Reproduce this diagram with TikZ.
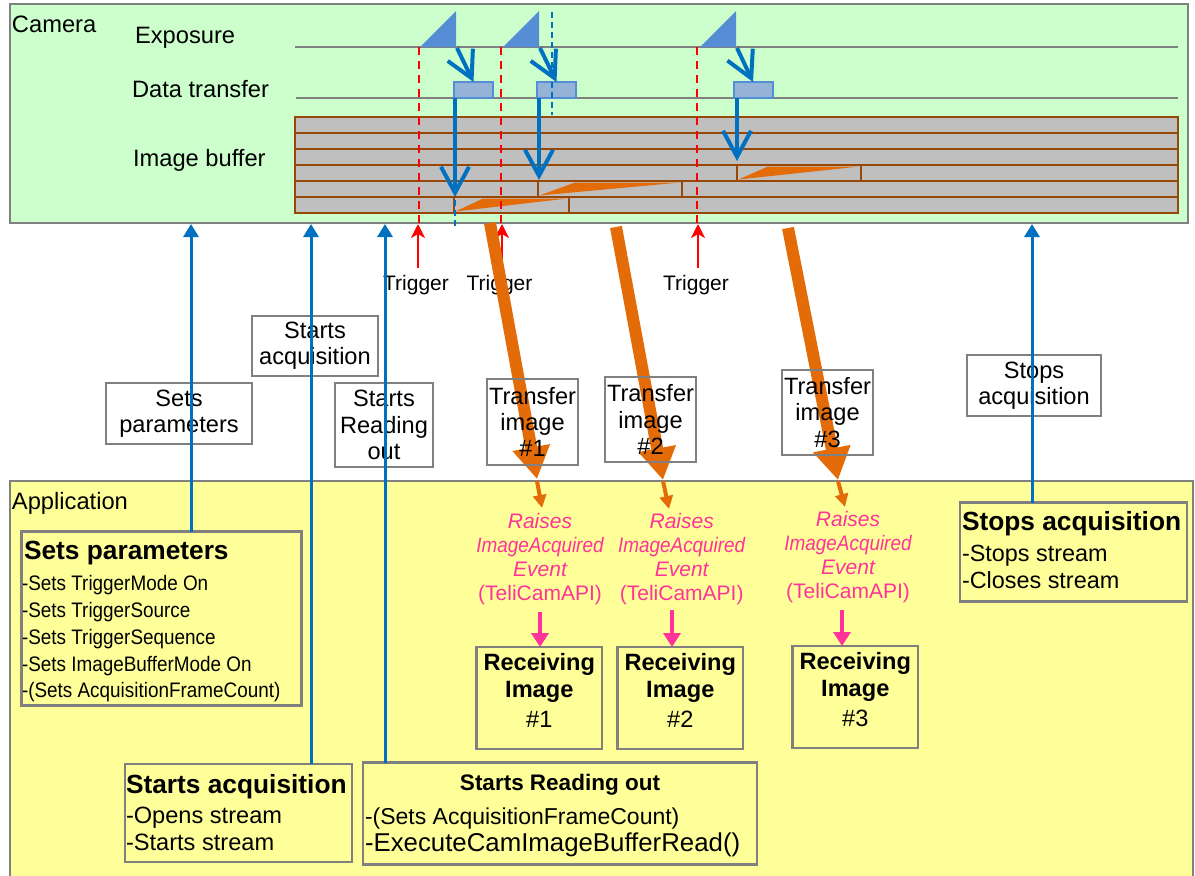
\documentclass[tikz,border=0pt]{standalone}
\usepackage{fontspec}
\setmainfont{Liberation Sans}
\newfontfamily\narrowfont[FakeStretch=0.9]{Liberation Sans}
\usetikzlibrary{arrows.meta}
\definecolor{camgreen}{RGB}{204,255,204}
\definecolor{appyellow}{RGB}{255,255,153}
\definecolor{panelgray}{RGB}{128,128,128}
\definecolor{bufgray}{RGB}{191,191,191}
\definecolor{bufbrown}{RGB}{152,72,6}
\definecolor{orangeA}{RGB}{227,108,9}
\definecolor{blueA}{RGB}{0,112,192}
\definecolor{expblue}{RGB}{85,142,213}
\definecolor{dtfill}{RGB}{149,179,215}
\definecolor{pinkA}{RGB}{255,51,153}
\definecolor{redA}{RGB}{255,0,0}
\begin{document}
\begin{tikzpicture}[x=1pt,y=-1pt,
  every node/.style={inner sep=0pt,outer sep=0pt},
  panelbox/.style={draw=panelgray,line width=2pt,anchor=north west},
  labtxt/.style={font=\fontsize{23.7}{26.7}\selectfont},
  trigtxt/.style={font=\fontsize{21}{24}\selectfont},
  lblbox/.style={draw=panelgray,line width=2pt,align=center,font=\fontsize{23.6}{26.3}\selectfont},
  appbox/.style={draw=panelgray,line width=2.5pt,anchor=north west},
  headtxt/.style={font=\bfseries\fontsize{26.3}{30}\selectfont},
  bodytxt/.style={font=\fontsize{23.6}{27}\selectfont},
  rectxt/.style={font=\fontsize{23.6}{27}\selectfont},
  tline/.style={draw=panelgray,line width=2pt},
  bufrow/.style={fill=bufgray,draw=bufbrown,line width=2.8pt},
  wedge/.style={fill=orangeA},
  dtbox/.style={draw=expblue,fill=dtfill,line width=2pt,minimum width=39pt,minimum height=16pt},
  barrow/.style={draw=blueA,line width=4pt,-{Straight Barb[length=26pt,width=28pt]}},
  uarrow/.style={draw=blueA,line width=3pt,-{Triangle[length=13pt,width=15pt]}},
  rarrow/.style={draw=redA,line width=2.5pt,-{Stealth[length=14pt,width=14pt,inset=4pt]}},
  parrow/.style={draw=pinkA,line width=4pt,-{Triangle[length=14pt,width=17pt]}},
  oarrow/.style={draw=orangeA,line width=12pt,-{Triangle[length=32pt,width=36pt]}},
  osmall/.style={draw=orangeA,line width=4pt,-{Triangle[length=13pt,width=13pt]}},
  rdash/.style={draw=redA,line width=2pt,dash pattern=on 8pt off 6pt},
  bdash/.style={draw=blueA,line width=2pt,dash pattern=on 6pt off 4pt},
  pinktxt/.style={text=pinkA,align=center,font=\fontsize{21}{24}\selectfont}
]
\useasboundingbox (0,0) rectangle (1195,876);
% panels
\node[panelbox,fill=camgreen,minimum width=1178pt,minimum height=219pt] (cam) at (10,4) {};
\node[panelbox,fill=appyellow,minimum width=1183pt,minimum height=400pt] (app) at (10,481) {};
% panel labels
\node[labtxt,anchor=base west] (tcam) at (12,32) {Camera};
\node[labtxt,anchor=base west] (texp) at (135,43) {Exposure};
\node[labtxt,anchor=base west] (tdt) at (132,97.5) {Data transfer};
\node[labtxt,anchor=base west] (tib) at (133,166) {Image buffer};
\node[labtxt,anchor=base west] (tapp) at (12,509) {Application};
% timelines
\draw[tline] (295,47) -- (1178,47);
\draw[tline] (296,98) -- (1178,98);
% image buffer
\foreach \yy in {117,133,149}{\draw[bufrow] (295,\yy) rectangle (1178,\yy+16);}
\draw[bufrow] (295,165) rectangle (737,181);
\draw[bufrow] (737,165) rectangle (861,181);
\draw[bufrow] (861,165) rectangle (1178,181);
\draw[bufrow] (295,181) rectangle (538,197);
\draw[bufrow] (538,181) rectangle (682,197);
\draw[bufrow] (682,181) rectangle (1178,197);
\draw[bufrow] (295,197) rectangle (454,213);
\draw[bufrow] (454,197) rectangle (569,213);
\draw[bufrow] (569,197) rectangle (1178,213);
\fill[wedge] (455.5,211.5) -- (483,198.5) -- (567.5,198.5) -- cycle;
\fill[wedge] (539.5,195.5) -- (575,182.5) -- (680.5,182.5) -- cycle;
\fill[wedge] (738.5,179.5) -- (768,166.5) -- (859.5,166.5) -- cycle;
% trigger dashed lines
\draw[rdash] (419,47) -- (419,223);
\draw[rdash] (501,47) -- (501,223);
\draw[rdash] (697,47) -- (697,223);
% exposure triangles
\fill[expblue] (420,47) -- (456,11) -- (456,47) -- cycle;
\fill[expblue] (503,47) -- (539,11) -- (539,47) -- cycle;
\fill[expblue] (700,47) -- (736,11) -- (736,47) -- cycle;
% data transfer boxes
\node[dtbox] (d1) at (473.5,90) {};
\node[dtbox] (d2) at (556.5,90) {};
\node[dtbox] (d3) at (753,90) {};
\coordinate (e1) at (457,48);
\coordinate (e2) at (540,48);
\coordinate (e3) at (737,48);
\draw[barrow] (e1) -- (d1.north);
\draw[barrow] (e2) -- (d2.north);
\draw[barrow] (e3) -- (d3.north);
\coordinate (v1) at (455,197);
\coordinate (v2) at (539,180);
\coordinate (v3) at (737,161);
\draw[barrow] (d1.south -| v1) -- (v1);
\draw[barrow] (d2.south -| v2) -- (v2);
\draw[barrow] (d3.south -| v3) -- (v3);
\draw[bdash] (552,12) -- (552,115);
\draw[bdash] (455,200) -- (455,228);
% triggers
\node[trigtxt,anchor=base] (tr1) at (416,290) {Trigger};
\node[trigtxt,anchor=base] (tr2) at (499.5,290) {Trigger};
\node[trigtxt,anchor=base] (tr3) at (696,290) {Trigger};
\coordinate (r1s) at (418,268); \coordinate (r1e) at (418,224);
\coordinate (r2s) at (502,268); \coordinate (r2e) at (502,224);
\coordinate (r3s) at (698,268); \coordinate (r3e) at (698,224);
\draw[rarrow] (r1s) -- (r1e);
\draw[rarrow] (r2s) -- (r2e);
\draw[rarrow] (r3s) -- (r3e);
% orange transfer arrows
\coordinate (o1s) at (490,223); \coordinate (o1e) at (537,479);
\coordinate (o2s) at (616,227); \coordinate (o2e) at (663,480);
\coordinate (o3s) at (788,228); \coordinate (o3e) at (838,480);
\draw[oarrow] (o1s) -- (o1e);
\draw[oarrow] (o2s) -- (o2e);
\draw[oarrow] (o3s) -- (o3e);
% label boxes
\node[lblbox,minimum width=146pt,minimum height=61pt] (lsp) at (179,413.5) {Sets\\parameters};
\node[lblbox,minimum width=126pt,minimum height=60pt] (lsa) at (315,346) {Starts\\acquisition};
\node[lblbox,minimum width=98pt,minimum height=84pt] (lsr) at (384,425) {Starts\\Reading\\out};
\node[lblbox,minimum width=91pt,minimum height=86pt] (lt1) at (532.5,422) {Transfer\\image\\\#1};
\node[lblbox,minimum width=91pt,minimum height=85pt] (lt2) at (650.5,419.5) {Transfer\\image\\\#2};
\node[lblbox,minimum width=91pt,minimum height=85pt] (lt3) at (827.5,412.5) {Transfer\\image\\\#3};
\node[lblbox,minimum width=134pt,minimum height=61pt] (lst) at (1034,385.5) {Stops\\acquisition};
% application boxes
\node[appbox,minimum width=280pt,minimum height=174pt] (appSP) at (21.7,531.7) {};
\node[appbox,minimum width=227pt,minimum height=98pt] (appSA) at (125,764) {};
\node[appbox,minimum width=394pt,minimum height=102pt] (appSR) at (363,762.7) {};
\node[appbox,minimum width=227pt,minimum height=99pt] (appST) at (960,502.7) {};
% blue command arrows
\coordinate (u1) at (191,224);
\coordinate (u2) at (311,224);
\coordinate (u3) at (385,224);
\coordinate (u4) at (1032,224);
\draw[uarrow] (appSP.north -| u1) -- (u1);
\draw[uarrow] (appSA.north -| u2) -- (u2);
\draw[uarrow] (appSR.north -| u3) -- (u3);
\draw[uarrow] (appST.north -| u4) -- (u4);
% application box texts
\node[headtxt,anchor=base west] (hsp) at (24,559) {Sets parameters};
\node[anchor=base west,align=left,font=\narrowfont\fontsize{21}{26.7}\selectfont] (bsp) at (22,697.7) {-Sets TriggerMode On\\-Sets TriggerSource\\-Sets TriggerSequence\\-Sets ImageBufferMode On\\-(Sets AcquisitionFrameCount)};
\node[headtxt,anchor=base west] (hsa) at (126,793) {Starts acquisition};
\node[bodytxt,anchor=base west,align=left] (bsa) at (126,850) {-Opens stream\\-Starts stream};
\node[font=\bfseries\fontsize{22.5}{26}\selectfont,anchor=base] (hsr) at (560,790) {Starts Reading out};
\node[font=\fontsize{23}{26}\selectfont,anchor=base west] (bsr1) at (365,824) {-(Sets AcquisitionFrameCount)};
\node[font=\fontsize{25.8}{28}\selectfont,anchor=base west] (bsr2) at (365,851.7) {-ExecuteCamImageBufferRead()};
\node[headtxt,anchor=base west] (hst) at (962,530.7) {Stops acquisition};
\node[font=\fontsize{23.4}{26.3}\selectfont,anchor=base west,align=left] (bst) at (962,588) {-Stops stream\\-Closes stream};
% events
\node[pinktxt,anchor=base] (ev1) at (540,600) {{\itshape Raises}\\{\narrowfont\itshape ImageAcquired}\\{\itshape Event}\\(TeliCamAPI)};
\node[pinktxt,anchor=base] (ev2) at (681.7,600) {{\itshape Raises}\\{\narrowfont\itshape ImageAcquired}\\{\itshape Event}\\(TeliCamAPI)};
\node[pinktxt,anchor=base] (ev3) at (848,598.3) {{\itshape Raises}\\{\narrowfont\itshape ImageAcquired}\\{\itshape Event}\\(TeliCamAPI)};
\coordinate (s1s) at (537,481); \coordinate (s1e) at (542,508);
\coordinate (s2s) at (663,481); \coordinate (s2e) at (669,509);
\coordinate (s3s) at (838,481); \coordinate (s3e) at (845,507);
\draw[osmall] (s1s) -- (s1e);
\draw[osmall] (s2s) -- (s2e);
\draw[osmall] (s3s) -- (s3e);
% receiving boxes
\node[appbox,minimum width=125.3pt,minimum height=102pt] (rec1) at (476.7,647) {};
\node[appbox,minimum width=125.3pt,minimum height=102pt] (rec2) at (617.7,647) {};
\node[appbox,minimum width=125.3pt,minimum height=102pt] (rec3) at (792.7,646) {};
\node[rectxt,anchor=base,align=center,font=\bfseries\fontsize{23.6}{27}\selectfont] (rt1) at (539.3,697) {Receiving\\Image};
\node[rectxt,anchor=base] (rn1) at (539.3,727) {\#1};
\node[rectxt,anchor=base,align=center,font=\bfseries\fontsize{23.6}{27}\selectfont] (rt2) at (680.3,697) {Receiving\\Image};
\node[rectxt,anchor=base] (rn2) at (680.3,727) {\#2};
\node[rectxt,anchor=base,align=center,font=\bfseries\fontsize{23.6}{27}\selectfont] (rt3) at (855.3,696) {Receiving\\Image};
\node[rectxt,anchor=base] (rn3) at (855.3,726) {\#3};
\coordinate (p1) at (540,612); \coordinate (p2) at (672,610); \coordinate (p3) at (842,610);
\draw[parrow] (p1) -- (p1 |- rec1.north);
\draw[parrow] (p2) -- (p2 |- rec2.north);
\draw[parrow] (p3) -- (p3 |- rec3.north);
\end{tikzpicture}
\end{document}
